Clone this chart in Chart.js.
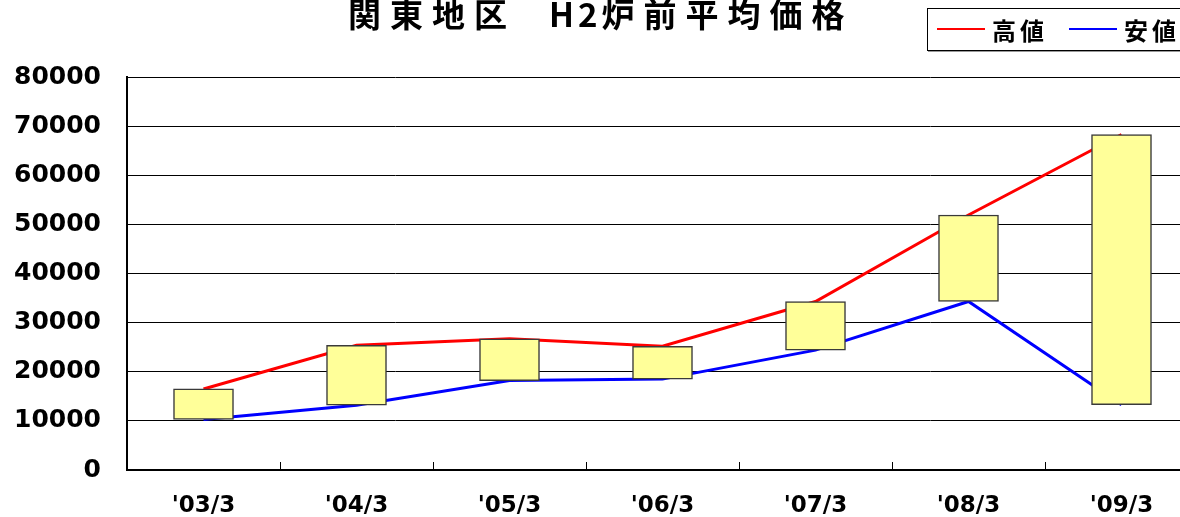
<!DOCTYPE html>
<html>
<head>
<meta charset="utf-8">
<script src="https://cdn.jsdelivr.net/npm/chart.js@4"></script>
<style>
  body { margin: 0; overflow: hidden; background: #fff; }
  #wrap { position: relative; width: 1180px; height: 517px; overflow: hidden; }
  #chart { position: absolute; left: 0; top: 0; }
  #title {
    position: absolute; left: 348px; top: -2px; line-height: 30px;
    font-family: "Noto Sans CJK JP", sans-serif; font-weight: bold; font-size: 33px;
    letter-spacing: 9px; color: #000; white-space: nowrap;
  }
  #title .gap { letter-spacing: 0; }
  #title .latin { letter-spacing: 4px; }
  #legend {
    position: absolute; left: 927px; top: 8px; width: 300px; height: 41px;
    border: 1px solid #000; box-shadow: 1px 1px 0 #999; background: #fff;
    font-family: "Noto Sans CJK JP", sans-serif; font-weight: bold; font-size: 24px;
    letter-spacing: 4px; color: #000;
  }
  #legend .item { position: absolute; top: 3px; display: flex; align-items: center; height: 34px; }
  #legend .swatch { width: 48px; height: 2px; margin-right: 7px; }
</style>
</head>
<body>
<div id="wrap">
  <canvas id="chart" width="1200" height="517"></canvas>
  <div id="title">関東地区<span class="gap">　</span><span class="latin">H2</span>炉前平均価格</div>
  <div id="legend">
    <div class="item" style="left:9px"><span class="swatch" style="background:#ff0000"></span>高値</div>
    <div class="item" style="left:141px"><span class="swatch" style="background:#0000ff"></span>安値</div>
  </div>
</div>
<script>
// 関東地区 H2炉前平均価格 (円/トン)
var categories = ["'03/3", "'04/3", "'05/3", "'06/3", "'07/3", "'08/3", "'09/3"];
var highs = [16500, 25400, 26700, 25200, 34300, 51900, 68300];
var lows = [10300, 13200, 18200, 18500, 24400, 34300, 13300];

// marcas cortas entre categorías, hacia dentro del gráfico
var innerTicks = {
    id: 'innerTicks',
    afterDatasetsDraw: function (chart) {
        var ctx = chart.ctx;
        var x = chart.scales.x;
        var bottom = chart.chartArea.bottom;
        ctx.save();
        ctx.strokeStyle = '#000';
        ctx.lineWidth = 1;
        for (var i = 0; i < categories.length - 1; i++) {
            var px = Math.round((x.getPixelForValue(i) + x.getPixelForValue(i + 1)) / 2) + 0.5;
            ctx.beginPath();
            ctx.moveTo(px, bottom - 8);
            ctx.lineTo(px, bottom);
            ctx.stroke();
        }
        ctx.restore();
    }
};

var ctx = document.getElementById('chart').getContext('2d');
var chart = new Chart(ctx, {
    type: 'bar',
    data: {
        labels: categories,
        datasets: [{
            type: 'line',
            label: '高値',
            data: highs,
            borderColor: '#ff0000',
            borderWidth: 3,
            pointRadius: 0,
            order: 2
        }, {
            type: 'line',
            label: '安値',
            data: lows,
            borderColor: '#0000ff',
            borderWidth: 3,
            pointRadius: 0,
            order: 1
        }, {
            label: 'range',
            data: lows.map(function (v, i) { return [v, highs[i]]; }),
            backgroundColor: '#ffff99',
            borderColor: '#3a3a3a',
            borderWidth: 1.5,
            borderSkipped: false,
            barThickness: 60,
            order: 0
        }]
    },
    options: {
        responsive: false,
        animation: false,
        layout: { padding: { top: 77, right: 2, left: 0, bottom: 0 } },
        plugins: {
            legend: { display: false },
            title: { display: false },
            tooltip: { enabled: false }
        },
        scales: {
            x: {
                offset: true,
                grid: { drawOnChartArea: false, drawTicks: false },
                border: { color: '#000', width: 2 },
                ticks: {
                    color: '#000',
                    padding: 22,
                    maxRotation: 0,
                    font: { family: 'DejaVu Sans', weight: 'bold', size: 23 }
                },
                afterFit: function (scale) { scale.height = 47; }
            },
            y: {
                min: 0,
                max: 80000,
                grid: { color: '#000', lineWidth: 1, drawTicks: false },
                border: { color: '#000', width: 2 },
                ticks: {
                    stepSize: 10000,
                    color: '#000',
                    padding: 26,
                    font: { family: 'DejaVu Sans', weight: 'bold', size: 25 },
                    callback: function (v) { return String(v); }
                },
                afterFit: function (scale) { scale.width = 127; }
            }
        }
    },
    plugins: [innerTicks]
});
</script>
</body>
</html>
